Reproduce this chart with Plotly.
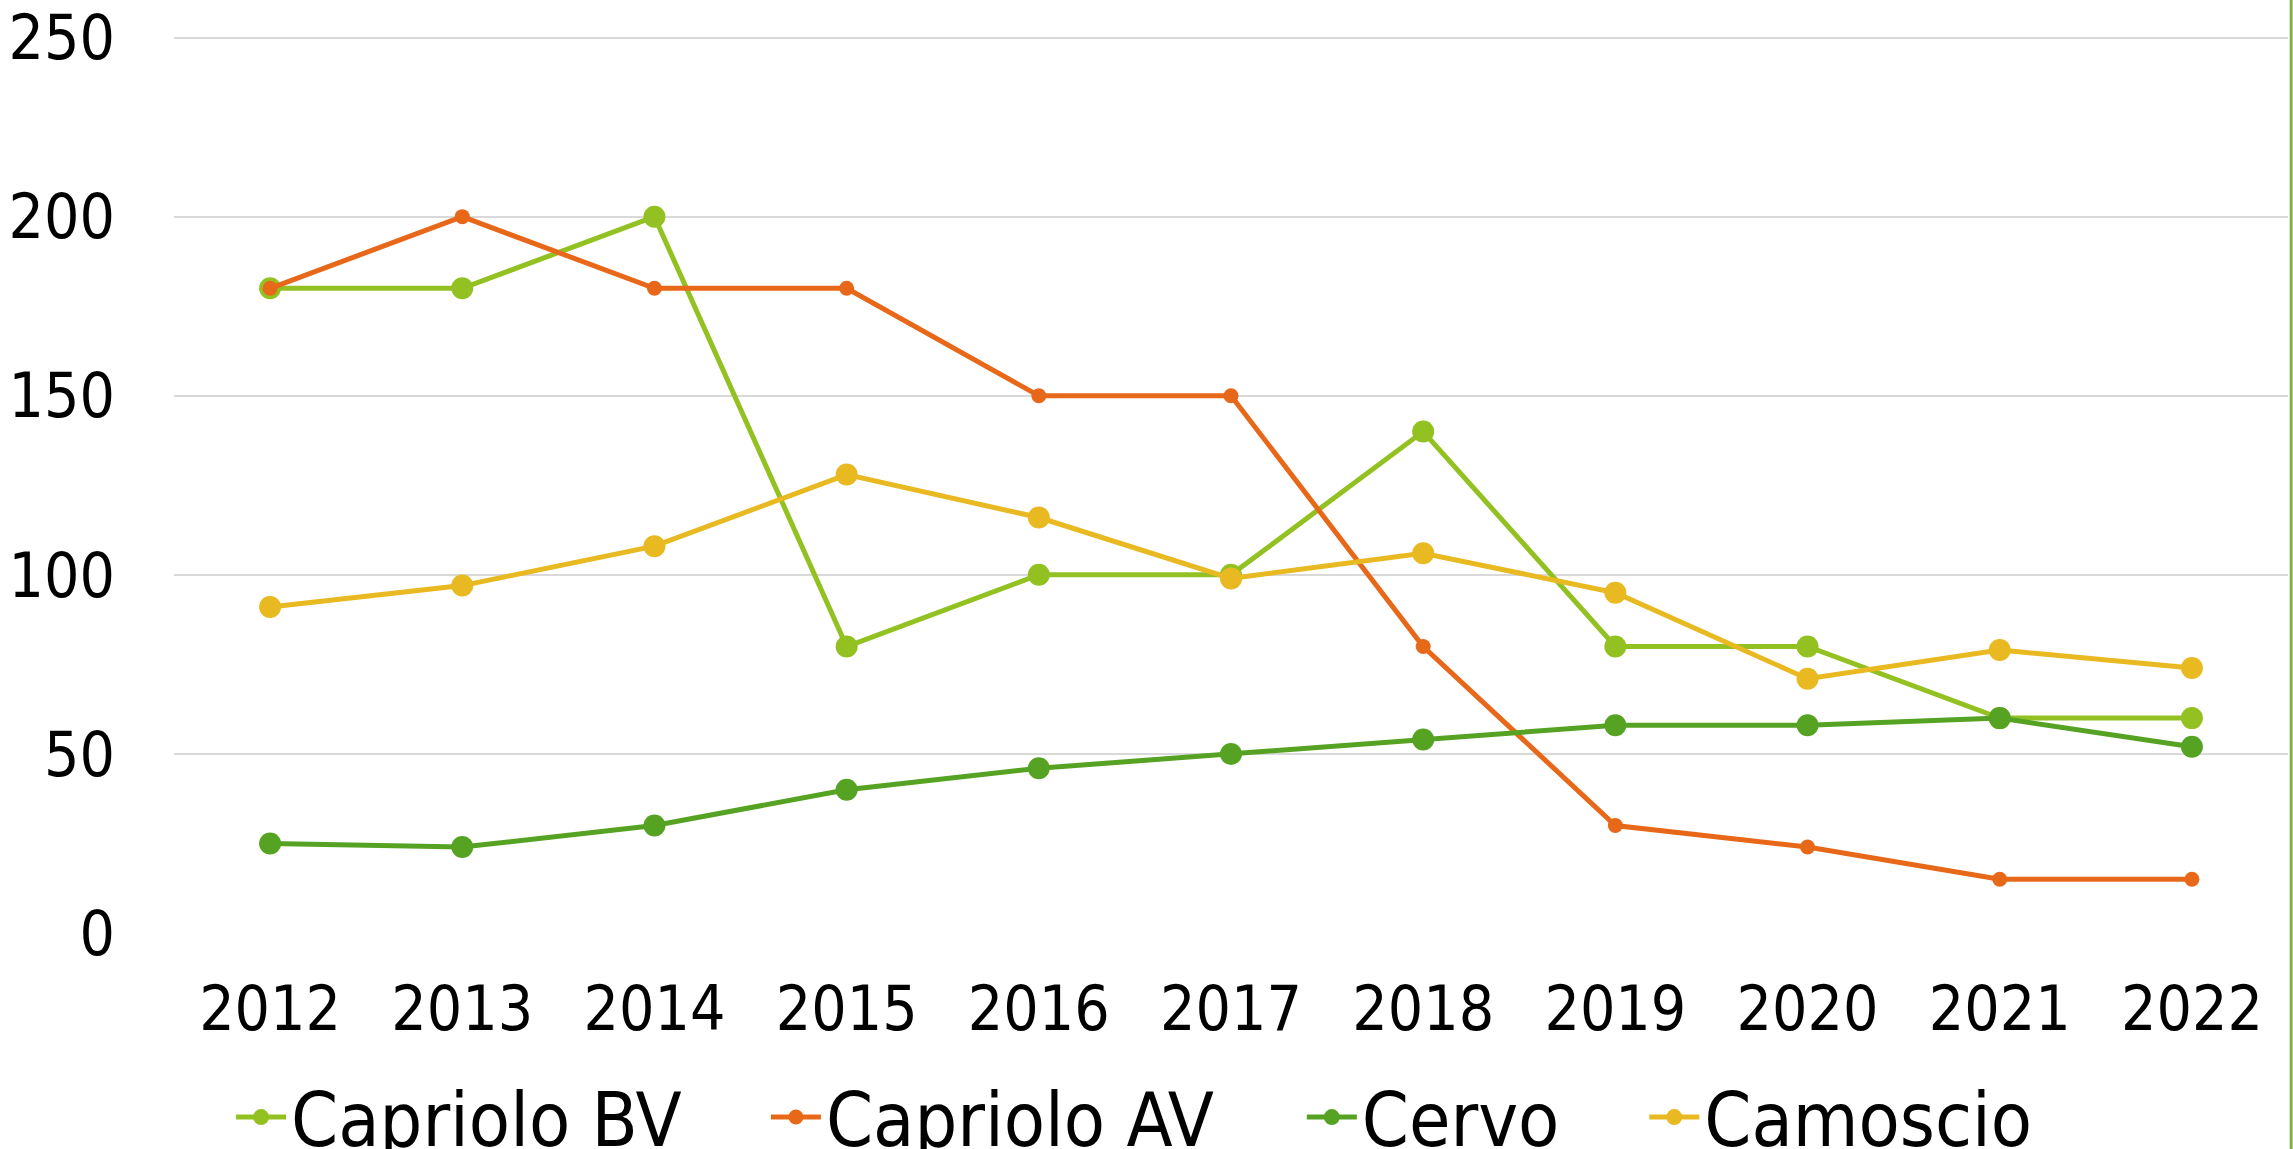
import plotly.graph_objects as go

years = ["2012", "2013", "2014", "2015", "2016", "2017", "2018", "2019", "2020", "2021", "2022"]
capriolo_bv = [180, 180, 200, 80, 100, 100, 140, 80, 80, 60, 60]
capriolo_av = [180, 200, 180, 180, 150, 150, 80, 30, 24, 15, 15]
cervo = [25, 24, 30, 40, 46, 50, 54, 58, 58, 60, 52]
camoscio = [91, 97, 108, 128, 116, 99, 106, 95, 71, 79, 74]

FONT = "DejaVu Sans Condensed, Liberation Sans Narrow, DejaVu Sans"

series = [
    ("Capriolo BV", capriolo_bv, "#92C121", 22, "legend", 0.027),
    ("Capriolo AV", capriolo_av, "#E8681A", 15, "legend2", 0.280),
    ("Cervo", cervo, "#56A324", 22, "legend3", 0.5335),
    ("Camoscio", camoscio, "#E8B921", 22, "legend4", 0.6955),
]

fig = go.Figure()
for name, vals, color, msize, leg, lx in series:
    fig.add_trace(go.Scatter(
        x=years, y=vals, name=name, mode="lines+markers",
        line=dict(color=color, width=5),
        marker=dict(color=color, size=msize),
        legend=leg,
    ))

legend_common = dict(
    orientation="h", yanchor="middle", y=-0.205, xanchor="left",
    font=dict(family=FONT, size=75, color="#000000"),
    bgcolor="rgba(0,0,0,0)", itemwidth=50, tracegroupgap=0,
)
layout_legends = {}
for name, vals, color, msize, leg, lx in series:
    layout_legends[leg] = dict(legend_common, x=lx)

fig.update_layout(
    width=2293, height=1149,
    paper_bgcolor="white", plot_bgcolor="white",
    margin=dict(l=174, r=5, t=34, b=216, autoexpand=False),
    showlegend=True,
    **layout_legends,
    xaxis=dict(
        type="category", range=[-0.5, 10.5],
        showgrid=False, zeroline=False, showline=False,
        ticks="", ticklabelstandoff=34,
        tickfont=dict(family=FONT, size=62, color="#000000"),
    ),
    yaxis=dict(
        range=[0, 251], tickvals=[0, 50, 100, 150, 200, 250],
        showgrid=True, gridcolor="#D9D9D9", gridwidth=1.5,
        zeroline=False, showline=False, ticks="", ticklabelstandoff=58,
        tickfont=dict(family=FONT, size=62, color="#000000"),
    ),
    shapes=[dict(type="line", xref="paper", yref="paper", x0=1.0015, x1=1.0015,
                 y0=-0.25, y1=1.05, line=dict(color="#7FB24A", width=3))],
)

fig.write_html(
    "out.html",
    config={"displayModeBar": False},
    post_script="document.body.style.margin='0';document.body.style.overflow='hidden';",
)
